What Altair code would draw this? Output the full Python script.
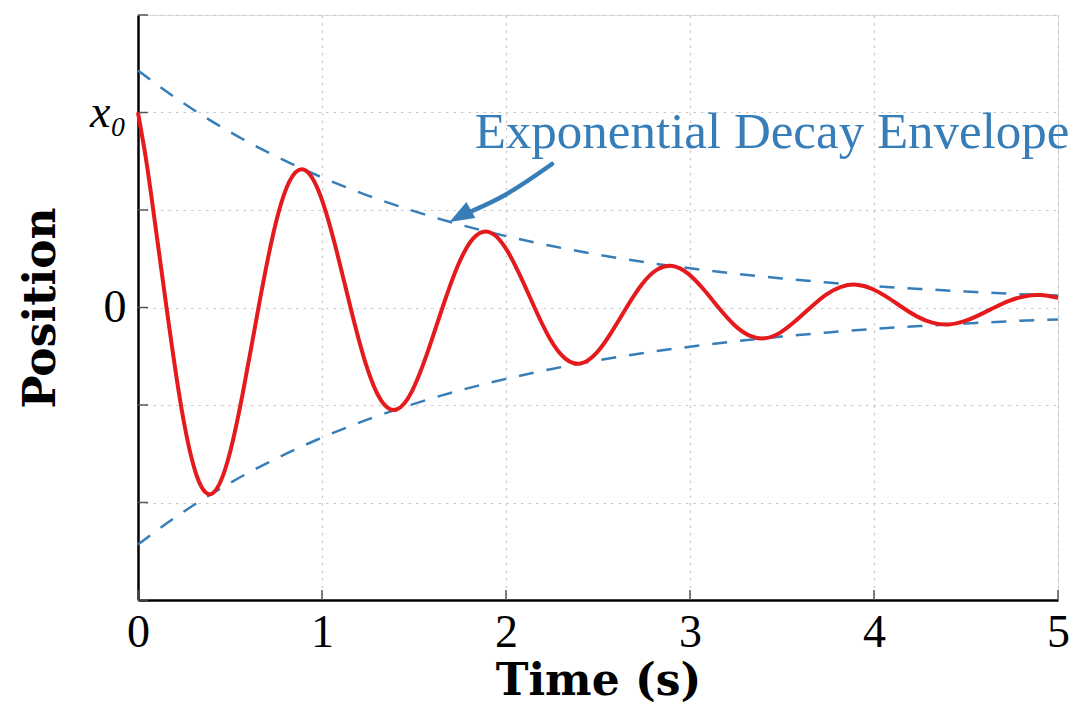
import altair as alt
import pandas as pd

SERIF = "Liberation Serif"
TITLE_FONT = "DejaVu Serif"
RED = "#e41a1c"
BLUE = "#377eb8"

# ---- data ----
curve_t = [0.0, 0.035, 0.071, 0.155, 0.238, 0.321, 0.405, 0.488, 0.571, 0.655, 0.738,
           0.821, 0.905, 0.988, 1.071, 1.155, 1.238, 1.321, 1.405, 1.488, 1.571,
           1.655, 1.738, 1.821, 1.905, 1.988, 2.071, 2.155, 2.238, 2.321, 2.405,
           2.488, 2.571, 2.655, 2.738, 2.821, 2.905, 2.988, 3.071, 3.155, 3.238,
           3.321, 3.405, 3.488, 3.571, 3.655, 3.738, 3.821, 3.905, 3.988, 4.071,
           4.155, 4.238, 4.321, 4.405, 4.488, 4.571, 4.655, 4.738, 4.821, 4.905, 5.0]
curve_x = [1.0, 0.811, 0.582, 0.0, -0.527, -0.868, -0.953, -0.785, -0.431, 0.0, 0.390,
           0.643, 0.706, 0.582, 0.320, 0.0, -0.289, -0.476, -0.523, -0.431, -0.237,
           0.0, 0.214, 0.353, 0.388, 0.319, 0.175, 0.0, -0.159, -0.261, -0.287,
           -0.237, -0.130, 0.0, 0.118, 0.194, 0.213, 0.175, 0.096, 0.0, -0.087,
           -0.143, -0.158, -0.130, -0.071, 0.0, 0.065, 0.106, 0.117, 0.096, 0.053,
           0.0, -0.048, -0.079, -0.087, -0.071, -0.039, 0.0, 0.035, 0.058, 0.064, 0.050]

env_t = [0.0, 0.25, 0.5, 0.75, 1.0, 1.25, 1.5, 1.75, 2.0, 2.25, 2.5, 2.75, 3.0,
         3.25, 3.5, 3.75, 4.0, 4.25, 4.5, 4.75, 5.0]
env_upper = [1.215, 1.046, 0.900, 0.775, 0.667, 0.574, 0.494, 0.425, 0.366, 0.315,
             0.271, 0.233, 0.201, 0.173, 0.149, 0.128, 0.110, 0.095, 0.082, 0.070, 0.061]
env_lower = [-1.215, -1.046, -0.900, -0.775, -0.667, -0.574, -0.494, -0.425, -0.366, -0.315,
             -0.271, -0.233, -0.201, -0.173, -0.149, -0.128, -0.110, -0.095, -0.082, -0.070, -0.061]

x_ticks = [0, 1, 2, 3, 4, 5]
y_ticks = [-1.5, -1.0, -0.5, 0.0, 0.5, 1.0, 1.5]

annot_text = ["Exponential Decay Envelope"]
annot_t = [1.83]
annot_y = [0.818]

arrow_t = [1.751, 1.985, 2.25]
arrow_y = [0.469, 0.572, 0.736]
head_t = [1.751]
head_y = [0.469]

# ---- tables ----
curve_df = pd.DataFrame({"t": curve_t, "y": curve_x})
env_df = pd.concat([
    pd.DataFrame({"t": env_t, "y": env_upper, "branch": "upper"}),
    pd.DataFrame({"t": env_t, "y": env_lower, "branch": "lower"}),
])
xtick_df = pd.DataFrame({"t": x_ticks})
ytick_df = pd.DataFrame({"y": y_ticks})
annot_df = pd.DataFrame({"t": annot_t, "y": annot_y, "label": annot_text})
arrow_df = pd.DataFrame({"t": arrow_t, "y": arrow_y})
head_df = pd.DataFrame({"t": head_t, "y": head_y})

W, H = 920, 585

xscale = alt.Scale(domain=[0, 5], nice=False, zero=False)
yscale = alt.Scale(domain=[-1.5, 1.5], nice=False, zero=False)

xaxis = alt.Axis(
    values=x_ticks, format="d", labelFont=SERIF, labelFontSize=46, labelColor="black",
    labelPadding=10, labelFlush=False, labelOverlap=False, tickSize=0,
    domainColor="black", domainWidth=2.5,
    grid=True, gridColor="#c8c8c8", gridDash=[2.5, 5], gridWidth=1.2,
    title="Time (s)", titleFont=TITLE_FONT, titleFontSize=44, titleFontWeight="bold",
    titleColor="black", titleX=W / 2, titleY=94, titleBaseline="alphabetic",
)
yaxis = alt.Axis(
    values=y_ticks,
    labelExpr="datum.value == 1 ? 'x\u2080' : (datum.value == 0 ? '0' : '')",
    labelFontStyle={"condition": {"test": "datum.value == 1", "value": "italic"}, "value": "normal"},
    labelFont=SERIF, labelFontSize=46, labelColor="black", labelPadding=12,
    labelOverlap=False, labelFlush=False, tickSize=0,
    domainColor="black", domainWidth=2.5,
    grid=True, gridColor="#c8c8c8", gridDash=[2.5, 5], gridWidth=1.2,
    title="Position", titleFont=TITLE_FONT, titleFontSize=44, titleFontWeight="bold",
    titleColor="black", titleX=-84, titleY=H / 2, titleAngle=270,
    titleBaseline="alphabetic",
)

X = alt.X("t:Q", scale=xscale, axis=xaxis)
Y = alt.Y("y:Q", scale=yscale, axis=yaxis)

xticks = alt.Chart(xtick_df).mark_rule(color="#555555", strokeWidth=1.5).encode(
    x=X, y=alt.value(H), y2=alt.value(H - 10)
)
yticks = alt.Chart(ytick_df).mark_rule(color="#555555", strokeWidth=1.5).encode(
    y=Y, x=alt.value(0), x2=alt.value(10)
)

envelope = alt.Chart(env_df).mark_line(
    color=BLUE, strokeWidth=2.5, strokeDash=[15, 13], interpolate="monotone"
).encode(x=X, y=Y, detail="branch:N")

curve = alt.Chart(curve_df).mark_line(
    color=RED, strokeWidth=4, interpolate="natural"
).encode(x=X, y=Y)

shaft = alt.Chart(arrow_df).mark_line(
    color=BLUE, strokeWidth=4.5, interpolate="monotone", strokeCap="round"
).encode(x=X, y=Y)

head = alt.Chart(head_df).mark_point(
    shape="M0,-1L0.75,1L-0.75,1Z", filled=True, color=BLUE, opacity=1,
    size=600, angle=240.6
).encode(x=X, y=Y)

annot = alt.Chart(annot_df).mark_text(
    font=SERIF, fontSize=51, color=BLUE, align="left", baseline="alphabetic"
).encode(x=X, y=Y, text="label:N")

chart = alt.layer(xticks, yticks, envelope, curve, shaft, head, annot).properties(
    width=W, height=H,
    autosize=alt.AutoSizeParams(type="none"),
    padding={"left": 130, "top": 7, "right": 12, "bottom": 103},
).configure_view(stroke=None).configure(background="white")

chart.save("out.html", embed_options={"renderer": "svg", "actions": False})
